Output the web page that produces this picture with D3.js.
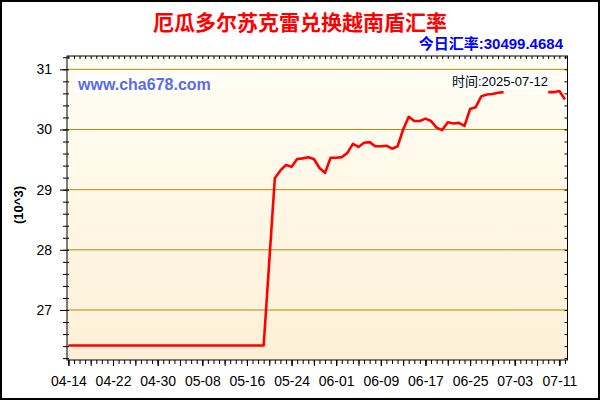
<!DOCTYPE html>
<html>
<head>
<meta charset="utf-8">
<script src="https://cdn.jsdelivr.net/npm/d3@7"></script>
<style>
  body { margin: 0; background: #fff; }
  text { font-family: "Liberation Sans", Arial, "Noto Sans CJK SC", sans-serif; }
</style>
</head>
<body>
<div class="chart"></div>
<script>
// Chart data: daily rate, 04-14 .. 07-12 (null = no data)
var startDate = "2025-04-14";
var endDate = "2025-07-12";
var rates = [
  26410, 26410, 26410, 26410, 26410, 26410, 26410, 26410, 26410, 26410,
  26410, 26410, 26410, 26410, 26410, 26410, 26410, 26410, 26410, 26410,
  26410, 26410, 26410, 26410, 26410, 26410, 26410, 26410, 26410, 26410,
  26410, 26410, 26410, 26410, 26410, 26410,
  27800, 29190, 29320, 29410, 29380, 29510, 29520, 29540, 29510, 29360,
  29280, 29530, 29530, 29540, 29610, 29760, 29710, 29780, 29790, 29720,
  29720, 29730, 29680, 29720, 30000, 30210, 30140, 30140, 30180, 30140,
  30030, 29990, 30120, 30100, 30110, 30060, 30340, 30370, 30550, 30580,
  30590, 30610, 30620,
  null, null, null, null, null, null, null,
  30620, 30620, 30640, 30499.4684
];
var xTickLabels = ["04-14", "04-22", "04-30", "05-08", "05-16", "05-24",
  "06-01", "06-09", "06-17", "06-25", "07-03", "07-11"];
var yTicks = [27000, 28000, 29000, 30000, 31000];

var titleText = "厄瓜多尔苏克雷兑换越南盾汇率";
var todayText = "今日汇率:30499.4684";
var dateText = "时间:2025-07-12";
var siteText = "www.cha678.com";

var svgWidth = 600;
var svgHeight = 400;
var plot = { left: 67, right: 567.5, top: 56, bottom: 360 };

var parseDay = d3.utcParse("%Y-%m-%d");
var fmtDay = d3.utcFormat("%m-%d");
var days = d3.utcDay.range(parseDay(startDate), d3.utcDay.offset(parseDay(endDate), 1));
var series = days.map(function(d, i) { return { date: d, value: rates[i] }; });

var svg = d3.select(".chart")
  .append("svg")
  .attr("width", svgWidth)
  .attr("height", svgHeight);

var defs = svg.append("defs");
var grad = defs.append("linearGradient")
  .attr("id", "bg")
  .attr("x1", 0).attr("y1", 0).attr("x2", 0).attr("y2", 1);
grad.append("stop").attr("offset", "0%").attr("stop-color", "#fffef5");
grad.append("stop").attr("offset", "100%").attr("stop-color", "#fdf0d6");

// outer frame
svg.append("rect")
  .attr("x", 1).attr("y", 1)
  .attr("width", svgWidth - 2).attr("height", svgHeight - 2)
  .attr("fill", "#fff")
  .attr("stroke", "#000")
  .attr("stroke-width", 2);

// scales
var x = d3.scaleUtc()
  .domain([d3.utcHour.offset(days[0], -6), d3.utcHour.offset(days[days.length - 1], 11)])
  .range([plot.left, plot.right]);

var y = d3.scaleLinear()
  .domain([26169, 31221])
  .range([plot.bottom, plot.top]);

// plot background
svg.append("rect")
  .attr("x", plot.left).attr("y", plot.top)
  .attr("width", plot.right - plot.left)
  .attr("height", plot.bottom - plot.top)
  .attr("fill", "url(#bg)");

// gridlines
svg.append("g")
  .selectAll("line")
  .data(yTicks)
  .enter()
  .append("line")
  .attr("x1", plot.left).attr("x2", plot.right)
  .attr("y1", d => y(d)).attr("y2", d => y(d))
  .attr("stroke", "#b8860b")
  .attr("stroke-width", 1);

// line
var line = d3.line()
  .defined(d => d.value !== null)
  .x(d => x(d.date))
  .y(d => y(d.value));

svg.append("path")
  .datum(series)
  .attr("d", line)
  .attr("fill", "none")
  .attr("stroke", "#ff0000")
  .attr("stroke-width", 2.6)
  .attr("stroke-linejoin", "round");

// x axis
var majorDates = xTickLabels.map(function(s) { return parseDay("2025-" + s); });
var midDates = days.filter(function(d, i) { return i % 4 === 0; });

function styleAxis(g) {
  g.select(".domain").remove();
  g.selectAll("line").attr("stroke", "#000");
  g.selectAll("text")
    .attr("fill", "#000")
    .style("font-size", "14px")
    .style("font-family", "'Liberation Sans', Arial, sans-serif");
}

svg.append("g")
  .attr("transform", `translate(0, ${plot.bottom})`)
  .call(d3.axisBottom(x).tickValues(days).tickSize(4).tickFormat(""))
  .call(styleAxis);

svg.append("g")
  .attr("transform", `translate(0, ${plot.bottom})`)
  .call(d3.axisBottom(x).tickValues(midDates).tickSize(6).tickFormat(""))
  .call(styleAxis);

svg.append("g")
  .attr("transform", `translate(0, ${plot.bottom})`)
  .call(d3.axisBottom(x).tickValues(majorDates).tickSize(6).tickPadding(10).tickFormat(fmtDay))
  .call(styleAxis);

// top axis ticks (inward)
svg.append("g")
  .attr("transform", `translate(0, ${plot.top})`)
  .call(d3.axisBottom(x).tickValues(days).tickSize(3).tickFormat(""))
  .call(styleAxis);

// y axis
var yMinor = d3.range(26200, 31201, 200);

svg.append("g")
  .attr("transform", `translate(${plot.left}, 0)`)
  .call(d3.axisLeft(y).tickValues(yMinor).tickSize(4).tickFormat(""))
  .call(styleAxis)
  .selectAll("line").attr("x2", -4).attr("x1", 2);

svg.append("g")
  .attr("transform", `translate(${plot.left}, 0)`)
  .call(d3.axisLeft(y).tickValues(yTicks).tickSize(7).tickPadding(8).tickFormat(d => d / 1000))
  .call(styleAxis);

// right axis ticks (inward)
svg.append("g")
  .attr("transform", `translate(${plot.right}, 0)`)
  .call(d3.axisLeft(y).tickValues(yMinor).tickSize(3).tickFormat(""))
  .call(styleAxis);

// plot frame
svg.append("rect")
  .attr("x", plot.left).attr("y", plot.top)
  .attr("width", plot.right - plot.left)
  .attr("height", plot.bottom - plot.top)
  .attr("fill", "none")
  .attr("stroke", "#000")
  .attr("stroke-width", 1);

// y axis label
svg.append("text")
  .attr("transform", "translate(23, 205) rotate(-90)")
  .attr("text-anchor", "middle")
  .style("font-size", "13px")
  .style("font-weight", "bold")
  .text("(10^3)");

// title
svg.append("text")
  .attr("x", 300).attr("y", 30)
  .attr("text-anchor", "middle")
  .attr("fill", "#ff0000")
  .style("font-size", "21px")
  .style("font-weight", "bold")
  .text(titleText);

svg.append("text")
  .attr("x", 563).attr("y", 49)
  .attr("text-anchor", "end")
  .attr("fill", "#0000ff")
  .style("font-size", "15px")
  .style("font-weight", "bold")
  .text(todayText);

// watermark labels with white boxes
function boxedText(tx, ty, anchor, size, weight, color, str) {
  var g = svg.append("g");
  var box = g.append("rect").attr("fill", "#fff");
  var t = g.append("text")
    .attr("x", tx).attr("y", ty)
    .attr("text-anchor", anchor)
    .attr("fill", color)
    .style("font-size", size)
    .style("font-weight", weight)
    .text(str);
  var bb = t.node().getBBox();
  box.attr("x", bb.x - 2).attr("y", bb.y).attr("width", bb.width + 4).attr("height", bb.height);
}

boxedText(78, 90, "start", "16px", "bold", "#5a6be8", siteText);
boxedText(548, 86, "end", "13px", "normal", "#000", dateText);
</script>
</body>
</html>
